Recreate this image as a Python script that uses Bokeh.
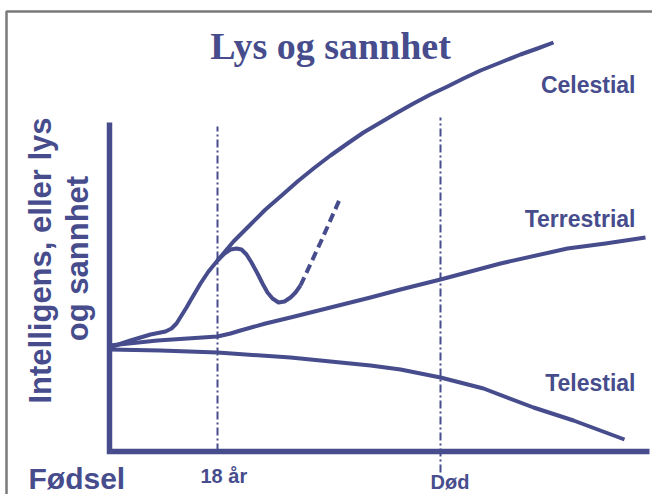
import math
from bokeh.plotting import figure
from bokeh.models import Range1d
from bokeh.core.properties import value
from bokeh.embed import file_html
from bokeh.resources import INLINE

# ---------------- data ----------------
TITLE = "Lys og sannhet"
Y_LABEL_LINES = ["Intelligens, eller lys", "og sannhet"]
ORIGIN_LABEL = "Fødsel"

CURVE_NAMES = ["Celestial", "Terrestrial", "Telestial"]

CELESTIAL_X = [0, 21, 41, 56, 62, 67, 72, 77, 81, 91, 99, 108, 124, 141, 156, 171, 188, 204,
               221, 238, 254, 271, 288, 304, 321, 338, 354, 371, 391, 411, 428, 444]
CELESTIAL_Y = [104, 111, 117, 120, 123, 128, 136, 144, 151, 168, 180, 191, 210, 227, 242, 255,
               270, 283, 296, 308, 319, 329, 339, 348, 357, 365, 373, 381, 389, 397, 403, 409]

WIGGLE_X = [108, 115, 121, 127, 132, 137, 142, 148, 153, 158, 163, 169, 175, 181, 186, 191]
WIGGLE_Y = [191, 198, 202, 203, 202, 197, 189, 178, 168, 159, 153, 149, 150, 154, 159, 166]
WIGGLE_DASH_X = [191, 211, 231]
WIGGLE_DASH_Y = [166, 209, 254]

TERRESTRIAL_X = [0, 48, 108, 121, 131, 156, 181, 221, 261, 291, 331, 391, 458, 496, 536]
TERRESTRIAL_Y = [106, 111, 115, 118, 121, 128, 134, 144, 154, 162, 172, 188, 203, 208, 214]

TELESTIAL_X = [0, 51, 108, 181, 261, 291, 331, 374, 424, 464, 515]
TELESTIAL_Y = [102, 101, 99, 94, 86, 82, 74, 63, 44, 31, 12]

MARKER_NAMES = ["18 år", "Død"]
MARKER_X = [108, 331]
MARKER_TOP = [325, 334]
MARKER_BOTTOM = [0, -21]

X_AXIS_END = 540
Y_AXIS_TOP = 329

NAVY = "#464C8C"
GRAY = "#7A7A7A"
SANS = value("Liberation Sans")

# ---------------- figure ----------------
p = figure(width=652, height=494, output_backend="svg", toolbar_location=None,
           x_range=Range1d(-109, 543), y_range=Range1d(-43, 451),
           x_axis_location=None, y_axis_location=None,
           min_border=0, outline_line_color=None,
           background_fill_color="white", border_fill_color="white")
p.grid.grid_line_color = None

# gray frame of the slide
p.line([-103, -103, 560], [-60, 440, 440], line_color=GRAY, line_width=2.5)

# axes of the diagram
p.line([0, 0, X_AXIS_END], [Y_AXIS_TOP, 0, 0], line_color=NAVY, line_width=5.5,
       line_join="miter")

# vertical dash-dot marker lines
p.segment(x0=MARKER_X, y0=MARKER_BOTTOM, x1=MARKER_X, y1=MARKER_TOP,
          line_color=NAVY, line_width=2, line_dash="8 3 2 3")

# curves
for xs, ys in ((CELESTIAL_X, CELESTIAL_Y), (TERRESTRIAL_X, TERRESTRIAL_Y),
               (TELESTIAL_X, TELESTIAL_Y), (WIGGLE_X, WIGGLE_Y)):
    p.line(xs, ys, line_color=NAVY, line_width=4, line_join="round")
p.line(WIGGLE_DASH_X, WIGGLE_DASH_Y, line_color=NAVY, line_width=4, line_dash="9 5")

# texts
common = dict(text_font_style="bold", text_color=NAVY, text_baseline="alphabetic")

p.text(x=[221], y=[406], text=[TITLE], text_font=value("Liberation Serif"),
       text_font_size="38px", text_align="center", **common)
p.text(x=[526, 526, 526], y=[367, 233, 69], text=CURVE_NAMES, text_font=SANS,
       text_font_size="23px", text_align="right", **common)
p.text(x=[-81], y=[-27], text=[ORIGIN_LABEL], text_font=SANS,
       text_font_size="30px", text_align="left", **common)
p.text(x=[91, 321], y=[-24, -30], text=MARKER_NAMES, text_font=SANS,
       text_font_size="20px", text_align="left", **common)
p.text(x=[-69, -32], y=[191, 193], text=Y_LABEL_LINES, text_font=SANS,
       text_font_size="31px", text_align="center", angle=math.pi / 2, **common)

open("out.html", "w").write(file_html(p, INLINE))
